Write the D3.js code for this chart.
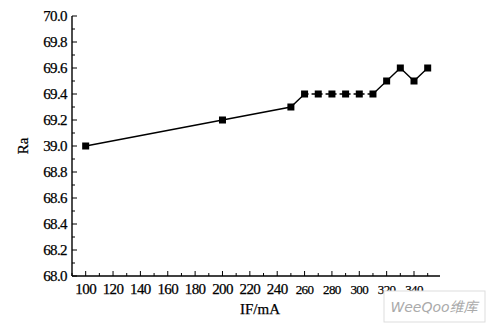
<!DOCTYPE html>
<html>
<head>
<meta charset="utf-8">
<script src="https://cdn.jsdelivr.net/npm/d3@7"></script>
<style>
  body { margin: 0; background: #fff; }
  svg { display: block; }
  text { font-family: "Liberation Serif", "DejaVu Serif", serif; fill: #000; stroke: #000; stroke-width: 0.25px; }
</style>
</head>
<body>
<script>
// data
const current = [100, 200, 250, 260, 270, 280, 290, 300, 310, 320, 330, 340, 350];
const ra = [69.0, 69.2, 69.3, 69.4, 69.4, 69.4, 69.4, 69.4, 69.4, 69.5, 69.6, 69.5, 69.6];
// dashed part of the curve (by index)
const dashedFrom = 3, dashedTo = 8;

const xTickValues = [100, 120, 140, 160, 180, 200, 220, 240, 260, 280, 300, 320, 340];
const yTickValues = [68.0, 68.2, 68.4, 68.6, 68.8, 69.0, 69.2, 69.4, 69.6, 69.8, 70.0];
const yTickLabels = ["68.0", "68.2", "68.4", "68.6", "68.8", "39.0", "69.2", "69.4", "69.6", "69.8", "70.0"];

const w = 489, h = 325;
const pLeft = 72, pRight = 440, pTop = 16, pBottom = 276;

const svg = d3.select("body").append("svg")
  .attr("width", w)
  .attr("height", h);

const x = d3.scaleLinear().domain([90, 359]).range([pLeft, pRight]);
const y = d3.scaleLinear().domain([68, 70]).range([pBottom, pTop]);

// axes lines
svg.append("line")
  .attr("x1", pLeft).attr("x2", pLeft).attr("y1", pTop).attr("y2", pBottom)
  .attr("stroke", "#000").attr("stroke-width", 1.4);
svg.append("line")
  .attr("x1", pLeft).attr("x2", pRight).attr("y1", pBottom).attr("y2", pBottom)
  .attr("stroke", "#000").attr("stroke-width", 1.4);

// y ticks (inward), major every 0.2, minor every 0.1
const yMinor = d3.range(0, 21).map(i => 68 + i * 0.1);
svg.selectAll(".ytick")
  .data(yMinor)
  .enter().append("line")
  .attr("x1", pLeft)
  .attr("x2", (d, i) => pLeft + (i % 2 === 0 ? 5 : 3))
  .attr("y1", d => y(d)).attr("y2", d => y(d))
  .attr("stroke", "#000").attr("stroke-width", 1);

svg.selectAll(".ylab")
  .data(yTickValues)
  .enter().append("text")
  .attr("x", pLeft - 5)
  .attr("y", d => y(d) + 5)
  .attr("text-anchor", "end")
  .style("font-size", "15px")
  .style("letter-spacing", "-0.6px")
  .text((d, i) => yTickLabels[i]);

// x ticks (inward), major every 20, minor every 10
const xMinor = d3.range(90, 360, 10);
svg.selectAll(".xtick")
  .data(xMinor)
  .enter().append("line")
  .attr("x1", d => x(d)).attr("x2", d => x(d))
  .attr("y1", pBottom)
  .attr("y2", d => pBottom - (d % 20 === 0 ? 5 : 3))
  .attr("stroke", "#000").attr("stroke-width", 1);

svg.selectAll(".xlab")
  .data(xTickValues)
  .enter().append("text")
  .attr("x", d => x(d))
  .attr("y", pBottom + 18)
  .attr("text-anchor", "middle")
  .style("font-size", d => d >= 260 ? "13px" : "15px")
  .style("letter-spacing", "-0.6px")
  .text(d => d);

// axis titles
svg.append("text")
  .attr("transform", "translate(28," + y(69) + ") rotate(-90)")
  .attr("text-anchor", "middle")
  .style("font-size", "15px")
  .text("Ra");

svg.append("text")
  .attr("x", 260)
  .attr("y", 314)
  .attr("text-anchor", "middle")
  .style("font-size", "15px")
  .text("IF/mA");

// curve
const pts = current.map((c, i) => [c, ra[i]]);
const line = d3.line().x(d => x(d[0])).y(d => y(d[1]));

svg.append("path")
  .attr("d", line(pts.slice(0, dashedFrom + 1)))
  .attr("fill", "none").attr("stroke", "#000").attr("stroke-width", 1.4);
svg.append("path")
  .attr("d", line(pts.slice(dashedFrom, dashedTo + 1)))
  .attr("fill", "none").attr("stroke", "#000").attr("stroke-width", 1.4)
  .attr("stroke-dasharray", "4,3");
svg.append("path")
  .attr("d", line(pts.slice(dashedTo)))
  .attr("fill", "none").attr("stroke", "#000").attr("stroke-width", 1.4);

const s = 7;
svg.selectAll(".pt")
  .data(pts)
  .enter().append("rect")
  .attr("x", d => x(d[0]) - s / 2)
  .attr("y", d => y(d[1]) - s / 2)
  .attr("width", s).attr("height", s)
  .attr("fill", "#000");

// watermark
svg.append("rect")
  .attr("x", 384).attr("y", 291).attr("width", 101).attr("height", 31)
  .attr("fill", "#fff").attr("stroke", "#ddd");
svg.append("text")
  .attr("x", 434).attr("y", 312)
  .attr("text-anchor", "middle")
  .style("font-family", "'DejaVu Sans', 'Noto Sans CJK SC', sans-serif")
  .style("font-size", "14px")
  .style("font-style", "italic")
  .style("fill", "#aaa")
  .style("stroke", "none")
  .text("WeeQoo维库");
</script>
</body>
</html>
